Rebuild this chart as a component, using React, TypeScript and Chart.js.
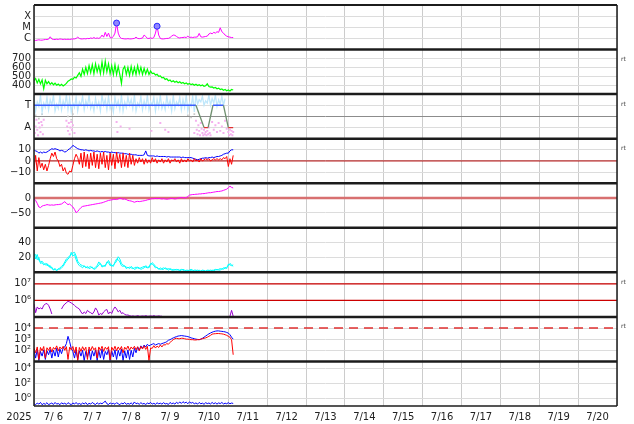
import React, { useEffect, useRef } from 'react';
import { Chart, registerables } from 'chart.js';

Chart.register(...registerables);

// ---------- axis labels ----------
const DAY_LABELS = ['7/ 6', '7/ 7', '7/ 8', '7/ 9', '7/10', '7/11', '7/12', '7/13', '7/14', '7/15', '7/16', '7/17', '7/18', '7/19', '7/20'];
const YEAR_LABEL = '2025';
const HOURS_PER_DAY = 24;
const RANGE_HOURS = 360;

const XRAY_TICKS = [1e-6, 1e-5, 1e-4];
const XRAY_TICK_LABELS = ['C', 'M', 'X'];
const WIND_TICKS = [400, 500, 600, 700];
const WIND_TICK_LABELS = ['400', '500', '600', '700'];
const SECTOR_TICKS = [1, 0, -1];
const SECTOR_TICK_LABELS = ['T', '', 'A'];
const B_TICKS = [10, 0, -10];
const B_TICK_LABELS = ['10', '0', '\u221210'];
const DST_TICKS = [0, -50];
const DST_TICK_LABELS = ['0', '\u221250'];
const DENS_TICKS = [20, 40];
const DENS_TICK_LABELS = ['20', '40'];
const ELEC_TICKS = [1e6, 1e7];
const ELEC_TICK_LABELS = ['10\u2076', '10\u2077'];
const PROTON_TICKS = [1e2, 1e3, 1e4];
const PROTON_TICK_LABELS = ['10\u00b2', '10\u00b3', '10\u2074'];
const LOW_TICKS = [1, 1e2, 1e4];
const LOW_TICK_LABELS = ['10\u2070', '10\u00b2', '10\u2074'];

// ---------- thresholds ----------
const BZ_ZERO = 0;
const DST_ZERO = 0;
const ELEC_ALERTS = [1e6, 1e7];
const PROTON_ALERT = 1e4;

// ---------- series (hourly from 7/6 00:00) ----------
const xrayFlux = [
  7e-7, 6.5e-7, 7e-7, 7.5e-7, 7e-7, 7e-7, 7.5e-7, 8e-7, 8e-7, 8.5e-7,
  1.4e-6, 9e-7, 8e-7, 8e-7, 8.5e-7, 8e-7, 9e-7, 8.5e-7, 8e-7, 8.5e-7,
  8e-7, 8.5e-7, 8e-7, 8.5e-7, 9e-7, 9e-7, 1e-6, 1.3e-6, 1e-6, 9e-7,
  9e-7, 9.5e-7, 9e-7, 1e-6, 9.5e-7, 1.1e-6, 1e-6, 1.2e-6, 1e-6, 1.1e-6,
  1e-6, 1.2e-6, 2e-6, 1.3e-6, 3.5e-6, 1.5e-6, 3e-6, 1.2e-6, 1.1e-6, 1.5e-6,
  3e-6, 2.4e-5, 3e-6, 1.3e-6, 1e-6, 9.5e-7, 9e-7, 9e-7, 9.5e-7, 9e-7,
  9e-7, 9.5e-7, 1e-6, 1.3e-6, 1e-6, 9.5e-7, 1e-6, 1.1e-6, 2e-6, 1.5e-6,
  1e-6, 1e-6, 1.1e-6, 1e-6, 1.2e-6, 3e-6, 1.25e-5, 2e-6, 1e-6, 9e-7,
  9e-7, 9.5e-7, 1e-6, 1e-6, 1.2e-6, 1.6e-6, 2e-6, 1.9e-6, 1.5e-6, 1.2e-6,
  1.1e-6, 1.2e-6, 1.2e-6, 1.3e-6, 1.2e-6, 1.6e-6, 1.2e-6, 1.3e-6, 1.2e-6, 1.3e-6,
  1.3e-6, 1.4e-6, 2.8e-6, 1.4e-6, 1.3e-6, 1.4e-6, 1.5e-6, 1.6e-6, 2.5e-6, 3e-6,
  2.6e-6, 3.5e-6, 3e-6, 4e-6, 3.5e-6, 9e-6, 4e-6, 3e-6, 2e-6, 1.6e-6,
  1.4e-6, 1.3e-6, 1.2e-6, 1.2e-6,
];
const flareHours = [51, 76];
const flareFlux = [2.4e-5, 1.25e-5];

const windSpeed = [
  450, 475, 425, 465, 415, 460, 360, 455, 415, 440,
  410, 428, 405, 422, 400, 412, 395, 410, 392, 405,
  420, 445, 455, 470, 465, 490, 480, 510, 540, 500,
  580, 520, 600, 530, 620, 540, 630, 530, 640, 550,
  620, 530, 660, 540, 670, 550, 640, 530, 620, 520,
  630, 520, 610, 520, 420, 580, 610, 520, 600, 510,
  610, 520, 600, 520, 620, 530, 600, 520, 590, 525,
  580, 520, 560, 530, 535, 515, 522, 500, 505, 482,
  488, 465, 472, 450, 458, 438, 450, 434, 444, 428,
  438, 422, 430, 416, 424, 410, 420, 406, 414, 400,
  410, 396, 406, 394, 402, 388, 394, 415, 386, 378,
  380, 368, 374, 360, 367, 352, 358, 344, 352, 338,
  346, 336, 352, 346,
];

const sectorHours = [0, 100, 105, 107.5, 110.5, 117, 120, 123];
const sectorPolarity = [1, 1, -1, -1, 1, 1, -1, -1];
const towardScatter = [
  1.8, 0.5, 1.3, 0.9, 1.9, 0.4, 1.2, 0.8, 1.7, 0.6,
  1.5, 1.0, 1.9, 0.5, 1.1, 0.7, 1.8, 0.6, 1.4, 0.9,
  1.9, 0.6, 1.6, 0.4, 1.2, 0.8, 1.7, 0.5, 1.3, 1.0,
  1.8, 0.6, 1.4, 0.9, 1.9, 0.7, 1.2, 0.5, 1.6, 0.8,
  1.3, 0.5, 1.9, 1.0, 1.5, 0.6, 1.8, 0.7, 1.2, 0.4,
  1.7, 0.9, 1.4, 0.6, 1.9, 0.5, 1.3, 0.8, 1.7, 1.0,
  1.5, 0.7, 1.9, 0.5, 1.2, 0.9, 1.8, 0.6, 1.4, 0.8,
  1.9, 0.6, 1.3, 1.0, 1.7, 0.5, 1.5, 0.8, 1.9, 0.7,
  1.2, 0.6, 1.8, 0.9, 1.4, 0.5, 1.9, 0.7, 1.3, 1.0,
  1.7, 0.6, 1.5, 0.8, 1.9, 0.5, 1.2, 0.9, 1.8, 0.4,
  1.9, 1.1, 1.5, 1.3, 1.8, 1.0, 1.4, 1.2, 1.9, 1.0,
  1.6, 1.2, 1.9, 0.9, 1.5, 1.1, 1.8, 1.0, 1.6,
];
const awayHours = [
  0, 0.5, 1, 1.5, 2, 2.5, 3, 3.5, 4, 4.5, 5, 5.5, 6,
  20, 20.5, 21, 21.5, 22, 22.5, 23, 23.5, 24, 25,
  51, 51.5, 53.5, 59, 72.5, 78, 81, 83,
  99, 100, 100.5, 101, 101.5, 102, 102.5, 103, 103.5, 104, 104.5, 105, 105.5, 106, 106.5, 107, 107.5, 108, 108.5, 109,
  110, 111, 112, 113, 114, 115, 116, 117, 118, 119, 120, 120.5, 121, 121.5, 122, 122.5, 123,
];
const awayValues = [
  -0.4, -1.5, -0.9, -0.3, -1.2, -1.7, -0.6, -1.0, -1.4, -0.5, -0.8, -1.6, -0.3,
  -0.4, -0.9, -1.3, -0.6, -1.6, -1.0, -0.5, -1.2, -0.8, -1.5,
  -0.5, -1.4, -0.9, -1.1, -1.3, -0.6, -1.2, -1.4,
  -1.5, -0.4, -1.2, -1.6, -0.8, -1.3, -1.7, -0.6, -1.1, -1.5, -1.7, -1.2, -1.6, -1.4, -1.7, -1.3, -1.6, -1.0, -1.5, -1.7,
  -0.5, -1.2, -0.8, -1.4, -0.6, -1.3, -0.9, -1.5, -0.4, -1.1, -1.4, -1.7, -1.2, -1.6, -1.3, -1.7, -1.4,
];
const neutralHours = [1, 3, 5, 21, 23, 24, 95, 97, 99];
const neutralValues = [0.1, -0.2, 0.2, 0.0, -0.3, 0.2, 0.1, -0.1, 0.2];

const btValues = [
  10, 9, 8.5, 7, 8, 7, 8, 7.5, 8, 9,
  10, 11, 10.5, 11, 10.5, 10, 9, 9.5, 9, 8,
  8.5, 10, 11, 12, 14, 13, 12, 11, 10.5, 10,
  10, 9.5, 10, 9.5, 9, 9.5, 9, 9, 8.5, 9,
  8.5, 8, 8.5, 8, 8.5, 8, 8, 7.5, 8, 7.5,
  7.5, 7, 7.5, 7, 7, 7, 6.5, 6.5, 6, 6,
  6, 5.5, 5.5, 5.5, 5, 5, 5, 5, 5.5, 9,
  5, 4.5, 4.5, 4.5, 4.5, 4, 4.5, 4, 4, 4,
  4, 4, 3.5, 4, 3.5, 3.5, 3.5, 3.5, 3.5, 3.5,
  3.5, 3, 3.5, 3, 3, 3, 3, 3, 2.5, 2,
  1.5, 1, 1.5, 2, 2.5, 2.5, 3, 2.5, 3, 3,
  3.5, 3, 3.5, 4, 4, 4.5, 5, 6, 6.5, 7,
  7, 9, 10, 10,
];
const bzValues = [
  -8, 5, -9, 3, -6, -2, -8, -3, -9, -4,
  2, 7, 4, 8, 2, 0, -5, -3, -9, -6,
  -11, -12, -9, -10, -4, 2, 6, 3, -3, 7,
  -6, 8, -5, 6, -7, 7, -4, 8, -6, 6,
  -7, 7, -3, 8, -6, 5, -8, 7, -4, 6,
  -7, 8, -2, 6, -6, 7, -5, 5, -6, 7,
  -3, 5, -4, 2, -2, 3, -1, 2, -3, 2,
  -2, 1, -2, 3, -1, 2, -2, 1, -1, 2,
  -2, 1, -1, 2, -2, 1, 0, 2, -1, 1,
  -2, 2, -1, 1, -1, 2, 0, 1, -1, 2,
  0, 1, -1, 2, 0, 1, 2, 1, 2, 0,
  1, 2, 1, 2, 1, 2, 1, 3, 2, 4,
  -5, 2, -3, 5,
];
const dstValues = [
  -2, -8, -18, -30, -32, -27, -25, -24, -22, -23,
  -24, -23, -24, -23, -22, -22, -21, -20, -16, -12,
  -18, -22, -20, -25, -30, -38, -49, -45, -38, -32,
  -28, -27, -26, -25, -24, -23, -22, -21, -20, -19,
  -18, -17, -16, -14, -12, -10, -8, -7, -6, -5,
  -4, -5, -3, -1, -2, -4, -3, -5, -8, -9,
  -10, -12, -14, -12, -11, -12, -11, -10, -9, -8,
  -6, -5, -3, -2, -2, -1, -2, -1, -2, -3,
  -2, -3, -4, -3, -2, -1, -2, -3, -2, 0,
  1, 2, 1, 0, 2, 5, 10, 11, 12, 12,
  13, 13, 14, 14, 15, 15, 16, 17, 18, 18,
  19, 20, 21, 22, 22, 23, 24, 26, 28, 30,
  35, 40, 36, 34,
];
const densityA = [
  26, 18, 24, 16, 14, 15, 12, 10, 12, 8,
  9, 5, 4, 5, 3, 4, 6, 8, 10, 14,
  18, 20, 22, 24, 26, 27, 22, 15, 12, 10,
  9, 8, 7, 6, 7, 8, 6, 5, 7, 9,
  14, 11, 9, 8, 10, 12, 16, 12, 8, 10,
  12, 15, 21, 18, 12, 10, 8, 7, 6, 7,
  6, 5, 6, 7, 6, 5, 6, 7, 8, 7,
  6, 8, 10, 13, 11, 8, 6, 5, 4, 5,
  6, 5, 4, 5, 4, 3, 4, 3, 4, 3,
  3, 4, 3, 2, 3, 2, 3, 4, 3, 2,
  2, 3, 2, 2, 3, 2, 2, 3, 2, 3,
  2, 3, 4, 3, 4, 5, 4, 6, 5, 7,
  9, 12, 10, 8,
];
const densityB = [
  22, 24, 17, 20, 12, 13, 10, 12, 9, 10,
  6, 7, 3, 4, 2, 5, 4, 6, 8, 12,
  15, 18, 20, 27, 22, 24, 17, 12, 9, 8,
  6, 9, 6, 8, 5, 6, 7, 4, 5, 7,
  10, 12, 7, 9, 8, 14, 13, 9, 10, 8,
  14, 18, 17, 14, 9, 8, 9, 5, 7, 5,
  8, 6, 4, 5, 7, 6, 4, 5, 6, 9,
  7, 6, 12, 11, 9, 6, 7, 4, 6, 4,
  4, 6, 5, 3, 5, 4, 2, 4, 3, 4,
  2, 3, 4, 3, 2, 3, 2, 3, 2, 3,
  3, 2, 3, 1, 2, 3, 1, 2, 3, 2,
  3, 2, 3, 4, 3, 3, 5, 4, 7, 5,
  11, 10, 9, 10,
];
const electronFlux = [
  6e5, 1.8e5, 4e5, 3e5, 3.5e5, 3e5, 5e5, 6e5, 6.5e5, 5e5,
  3e5, 1.5e5, null, null, null, null, null, 3e5, 4.5e5, 6e5,
  7e5, 9e5, 8e5, 7e5, 6e5, 5e5, 4e5, 3.5e5, 3e5, 2e5,
  1.5e5, 2e5, 1.6e5, 2.5e5, 2e5, 1.8e5, 1.5e5, 2e5, 3.5e5, 2.5e5,
  1.3e5, 1.6e5, 1.4e5, 2e5, 2.5e5, 2.8e5, 1.5e5, 2e5, 1.6e5, 2.8e5,
  4e5, 3e5, 2e5, 2.5e5, 1.6e5, 1.8e5, 1.4e5, 1.3e5, 1.3e5, 1.2e5,
  1.1e5, 1.15e5, 1.1e5, 1.1e5, 1.2e5, 1.1e5, 1.1e5, 1.15e5, 1.1e5, 1.2e5,
  1.1e5, 1.1e5, 1.15e5, 1.1e5, 1.2e5, 1.1e5, 1.1e5, 1.15e5, 1.1e5, 1.1e5,
  null, null, null, null, null, null, null, null, null, null,
  null, null, null, null, null, null, null, null, null, null,
  null, null, null, null, null, null, null, null, null, null,
  null, null, null, null, null, null, null, null, null, null,
  null, 1.1e5, 2.5e5, 1.1e5,
];
const protonRed = [
  150, 60, 200, 15, 180, 90, 220, 20, 170, 100,
  200, 70, 180, 120, 250, 90, 200, 130, 230, 100,
  210, 15, 190, 110, 220, 60, 200, 12, 180, 80,
  210, 100, 190, 15, 200, 90, 220, 110, 170, 20,
  200, 100, 230, 80, 190, 120, 210, 14, 190, 100,
  230, 90, 200, 110, 220, 60, 190, 120, 240, 100,
  200, 130, 230, 110, 210, 90, 220, 130, 250, 120,
  230, 12, 160, 150, 260, 160, 240, 180, 300, 200,
  320, 300, 400, 350, 500, 700, 900, 1100, 1200, 1100,
  1100, 1200, 1200, 1100, 1000, 1000, 950, 900, 900, 850,
  850, 900, 900, 1000, 1100, 1200, 1300, 1500, 1800, 2200,
  2800, 3000, 3100, 3200, 3200, 3100, 3000, 2800, 2500, 2200,
  1800, 1500, 900, 40,
];
const protonBlue = [
  100, 20, 120, 12, 80, 30, 110, 15, 90, 40,
  120, 20, 100, 30, 150, 25, 130, 50, 160, 200,
  400, 1800, 600, 150, 80, 20, 110, 15, 90, 30,
  100, 12, 80, 25, 120, 14, 90, 30, 110, 12,
  100, 20, 130, 15, 80, 40, 120, 12, 90, 25,
  110, 15, 100, 30, 130, 12, 90, 20, 110, 15,
  100, 25, 150, 60, 200, 100, 250, 150, 300, 200,
  350, 250, 300, 350, 400, 300, 350, 400, 350, 400,
  450, 500, 600, 800, 900, 1100, 1300, 1500, 1700, 1900,
  2000, 2100, 2000, 1900, 1800, 1700, 1500, 1300, 1200, 1100,
  1000, 950, 900, 1000, 1200, 1500, 1900, 2400, 3000, 3600,
  4200, 4800, 5200, 5500, 5500, 5200, 5000, 4800, 4500, 4000,
  3500, 2500, 1500, 1000,
];
const lowFlux = [
  0.2, 0.15, 0.25, 0.18, 0.3, 0.15, 0.22, 0.17, 0.28, 0.15,
  0.2, 0.25, 0.16, 0.3, 0.18, 0.22, 0.15, 0.27, 0.19, 0.24,
  0.16, 0.28, 0.2, 0.15, 0.26, 0.18, 0.3, 0.17, 0.22, 0.16,
  0.25, 0.19, 0.28, 0.15, 0.23, 0.18, 0.3, 0.2, 0.16, 0.27,
  0.18, 0.24, 0.2, 0.3, 0.45, 0.2, 0.16, 0.26, 0.19, 0.23,
  0.17, 0.28, 0.2, 0.15, 0.25, 0.19, 0.3, 0.17, 0.22, 0.18,
  0.26, 0.16, 0.35, 0.2, 0.24, 0.17, 0.28, 0.19, 0.22, 0.16,
  0.25, 0.2, 0.3, 0.18, 0.23, 0.17, 0.27, 0.2, 0.24, 0.18,
  0.28, 0.19, 0.22, 0.16, 0.3, 0.2, 0.25, 0.18, 0.32, 0.21,
  0.35, 0.22, 0.38, 0.25, 0.33, 0.2, 0.36, 0.24, 0.3, 0.2,
  0.26, 0.18, 0.3, 0.2, 0.24, 0.17, 0.28, 0.21, 0.25, 0.19,
  0.3, 0.2, 0.27, 0.18, 0.26, 0.21, 0.3, 0.19, 0.24, 0.2,
  0.28, 0.2, 0.25, 0.22,
];

// ---------- styling ----------
const FONT_FAMILY = '"DejaVu Sans", sans-serif';
const TICK_FONT = { family: FONT_FAMILY, size: 10 };
const GRID_COLOR = '#dcdcdc';
const VGRID_COLOR = '#cccccc';
const FRAME_COLOR = '#1c1c1c';
const AXIS_WIDTH = 34;
const PANEL_IDS = ['yXray', 'yWind', 'ySector', 'yB', 'yDst', 'yDens', 'yElec', 'yProton', 'yLow'];
const RT_PANELS = ['yWind', 'ySector', 'yB', 'yElec', 'yProton'];

const hourly = (vals: (number | null)[]) => vals.map((v, i) => ({ x: i, y: v }));
const paired = (xs: number[], ys: number[]) => xs.map((x, i) => ({ x, y: ys[i] }));
const flat = (y: number) => [{ x: 0, y }, { x: RANGE_HOURS, y }];

function panelAxis(o: any) {
  return {
    type: o.type || 'linear',
    axis: 'y',
    position: 'left',
    stack: 'panels',
    stackWeight: 1,
    offset: false,
    min: o.min,
    max: o.max,
    border: { display: false },
    grid: {
      drawTicks: false,
      lineWidth: 1,
      color: (ctx: any) => (o.gridColor ? o.gridColor(ctx.tick && ctx.tick.value) : GRID_COLOR),
    },
    ticks: {
      padding: 3,
      color: '#222',
      font: TICK_FONT,
      autoSkip: false,
      callback: (_v: any, i: number) => (o.labels[i] !== undefined ? o.labels[i] : ''),
    },
    afterBuildTicks: (s: any) => {
      s.ticks = o.ticks.map((value: number) => ({ value }));
    },
    afterFit: (s: any) => {
      s.width = AXIS_WIDTH;
      s.paddingTop = 0;
      s.paddingBottom = 0;
    },
  };
}

const framePlugin = {
  id: 'panelFrame',
  afterDatasetsDraw(chart: any) {
    const { ctx, chartArea: a } = chart;
    ctx.save();
    ctx.strokeStyle = FRAME_COLOR;
    const hline = (y: number, w: number) => {
      ctx.lineWidth = w;
      ctx.beginPath();
      ctx.moveTo(a.left, y);
      ctx.lineTo(a.right, y);
      ctx.stroke();
    };
    PANEL_IDS.forEach((id) => {
      const s = chart.scales[id];
      if (s && s.top > a.top + 1) hline(s.top, 2.5);
    });
    hline(a.top, 2);
    hline(a.bottom, 1.5);
    ctx.lineWidth = 1.5;
    ctx.beginPath();
    ctx.moveTo(a.left, a.top);
    ctx.lineTo(a.left, a.bottom);
    ctx.moveTo(a.right, a.top);
    ctx.lineTo(a.right, a.bottom);
    ctx.stroke();

    ctx.fillStyle = '#444';
    ctx.font = '6px ' + FONT_FAMILY;
    ctx.textAlign = 'left';
    ctx.textBaseline = 'middle';
    RT_PANELS.forEach((id) => {
      const s = chart.scales[id];
      if (s) ctx.fillText('rt', a.right + 4, s.top + 10);
    });

    const xl = chart.scales.xl;
    const items = xl && xl.getLabelItems ? xl.getLabelItems() : [];
    const it = items && items[0];
    ctx.fillStyle = '#222';
    ctx.font = '10px ' + FONT_FAMILY;
    ctx.textAlign = 'center';
    if (it) {
      ctx.textBaseline = it.options.textBaseline;
      ctx.fillText(YEAR_LABEL, a.left - 15, it.options.translation[1] + (it.textOffset || 0));
    } else {
      ctx.textBaseline = 'middle';
      ctx.fillText(YEAR_LABEL, a.left - 15, a.bottom + 11);
    }
    ctx.restore();
  },
};

export default function App() {
  const canvasRef = useRef<HTMLCanvasElement | null>(null);

  useEffect(() => {
    const canvas = canvasRef.current;
    if (!canvas) return;
    const line = (data: any[], yAxisID: string, color: string, extra: any = {}) => ({
      data,
      yAxisID,
      xAxisID: 'x',
      borderColor: color,
      backgroundColor: color,
      borderWidth: 1,
      pointRadius: 0,
      tension: 0,
      fill: false,
      spanGaps: false,
      order: 1,
      ...extra,
    });
    const dots = (data: any[], yAxisID: string, color: string, extra: any = {}) =>
      line(data, yAxisID, color, { showLine: false, pointRadius: 1.2, pointStyle: 'rect', pointBorderWidth: 0, ...extra });

    const datasets: any[] = [
      line(hourly(xrayFlux), 'yXray', '#ff00ff'),
      dots(paired(flareHours, flareFlux), 'yXray', '#7f72ff', {
        pointStyle: 'circle', pointRadius: 3, pointBorderWidth: 1, pointBorderColor: '#2a2aff', pointBackgroundColor: '#8f86ff', order: 0,
      }),
      line(hourly(windSpeed), 'yWind', '#00ff00', { borderWidth: 1.2 }),
      line(hourly(towardScatter), 'ySector', '#bfe7fb', { borderWidth: 1.3, order: 3 }),
      dots(paired(awayHours, awayValues), 'ySector', '#f4b0ee', { order: 3, pointRadius: 1.4 }),
      dots(paired(neutralHours, neutralValues), 'ySector', '#c8c8c8', { order: 3 }),
      line(paired(sectorHours, sectorPolarity), 'ySector', '#3050ff', {
        borderWidth: 1.3,
        order: 0,
        segment: {
          borderColor: (c: any) => {
            const a = c.p0.parsed.y, b = c.p1.parsed.y;
            if (a > 0 && b > 0) return '#3a5cff';
            if (a < 0 && b < 0) return '#e03030';
            return '#6f8f6f';
          },
        },
      }),
      line(flat(BZ_ZERO), 'yB', '#b00000', { order: 5 }),
      line(hourly(btValues), 'yB', '#0000ff', { order: 2 }),
      line(hourly(bzValues), 'yB', '#ff0000', { order: 1 }),
      line(flat(DST_ZERO), 'yDst', '#d87070', { borderWidth: 2.5, order: 5 }),
      line(hourly(dstValues), 'yDst', '#ff00ff'),
      line(hourly(densityA), 'yDens', '#00ffff'),
      line(hourly(densityB), 'yDens', '#00ffff'),
      ...ELEC_ALERTS.map((v) => line(flat(v), 'yElec', '#cc0000', { borderWidth: 1.2, order: 5 })),
      line(hourly(electronFlux), 'yElec', '#9a00d0'),
      line(flat(PROTON_ALERT), 'yProton', '#e03030', { borderWidth: 1.5, borderDash: [9, 6], order: 5 }),
      line(hourly(protonBlue), 'yProton', '#0000ff', { order: 2 }),
      line(hourly(protonRed), 'yProton', '#ff0000', { order: 1 }),
      line(hourly(lowFlux), 'yLow', '#0000ff'),
    ];

    // Stacked left axes are laid out from the last-defined one downward,
    // so the panels are listed bottom-first here.
    const chart = new Chart(canvas, {
      type: 'line',
      data: { datasets },
      plugins: [framePlugin],
      options: {
        responsive: false,
        animation: false,
        devicePixelRatio: 1,
        events: [],
        layout: { padding: { left: 0, right: 17, top: 2, bottom: 0 } },
        plugins: { legend: { display: false }, tooltip: { enabled: false } },
        scales: {
          x: {
            type: 'linear',
            axis: 'x',
            position: 'bottom',
            min: 0,
            max: RANGE_HOURS,
            border: { display: false },
            grid: { color: VGRID_COLOR, drawTicks: false, lineWidth: 1 },
            ticks: { display: false, stepSize: HOURS_PER_DAY },
            afterFit: (s: any) => { s.height = 0; s.paddingLeft = 0; s.paddingRight = 0; },
          },
          xl: {
            type: 'linear',
            axis: 'x',
            position: 'bottom',
            min: 0,
            max: RANGE_HOURS,
            border: { display: false },
            grid: { display: false, drawTicks: false },
            ticks: {
              color: '#222',
              font: TICK_FONT,
              padding: 5,
              maxRotation: 0,
              autoSkip: false,
              callback: (_v: any, i: number) => DAY_LABELS[i],
            },
            afterBuildTicks: (s: any) => {
              s.ticks = DAY_LABELS.map((_l, i) => ({ value: i * HOURS_PER_DAY + HOURS_PER_DAY / 2 }));
            },
            afterFit: (s: any) => { s.height = 18; s.paddingLeft = 0; s.paddingRight = 0; },
          },
          yLow: panelAxis({ type: 'logarithmic', min: 0.1, max: 1e5, ticks: LOW_TICKS, labels: LOW_TICK_LABELS }),
          yProton: panelAxis({ type: 'logarithmic', min: 10, max: 1e5, ticks: PROTON_TICKS, labels: PROTON_TICK_LABELS }),
          yElec: panelAxis({ type: 'logarithmic', min: 1e5, max: 5e7, ticks: ELEC_TICKS, labels: ELEC_TICK_LABELS }),
          yDens: panelAxis({ min: 0, max: 60, ticks: DENS_TICKS, labels: DENS_TICK_LABELS }),
          yDst: panelAxis({ min: -100, max: 50, ticks: DST_TICKS, labels: DST_TICK_LABELS }),
          yB: panelAxis({ min: -20, max: 20, ticks: B_TICKS, labels: B_TICK_LABELS }),
          ySector: panelAxis({
            min: -2, max: 2, ticks: SECTOR_TICKS, labels: SECTOR_TICK_LABELS,
            gridColor: (v: number) => (v === 0 ? '#8c8c8c' : GRID_COLOR),
          }),
          yWind: panelAxis({ min: 300, max: 800, ticks: WIND_TICKS, labels: WIND_TICK_LABELS }),
          yXray: panelAxis({ type: 'logarithmic', min: 1e-7, max: 1e-3, ticks: XRAY_TICKS, labels: XRAY_TICK_LABELS }),
        },
      } as any,
    } as any);

    return () => chart.destroy();
  }, []);

  return (
    <div style={{ position: 'absolute', left: 0, top: 0, width: 634, height: 424, background: '#fff' }}>
      <canvas ref={canvasRef} width={634} height={424} style={{ display: 'block' }} />
    </div>
  );
}
